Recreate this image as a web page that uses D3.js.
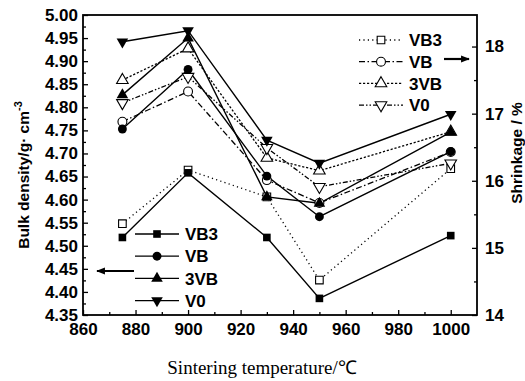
<!DOCTYPE html>
<html>
<head>
<meta charset="utf-8">
<script src="https://cdn.jsdelivr.net/npm/d3@7"></script>
<style>
  body { margin: 0; background: #fff; }
  svg { display: block; }
</style>
</head>
<body>
<div id="chart"></div>
<script>
// values
const temps = [875, 900, 930, 950, 1000];

const densityVB3 = [4.518, 4.658, 4.518, 4.386, 4.522];
const densityVB  = [4.753, 4.882, 4.651, 4.563, 4.704];
const density3VB = [4.827, 4.950, 4.606, 4.592, 4.746];
const densityV0  = [4.942, 4.966, 4.729, 4.679, 4.785];

const shrinkVB3 = [15.36, 16.16, 15.76, 14.52, 16.18];
const shrinkVB  = [16.88, 17.33, 16.01, 15.67, 16.43];
const shrink3VB = [17.50, 17.97, 16.34, 16.15, 16.73];
const shrinkV0  = [17.16, 17.55, 16.49, 15.91, 16.26];

const seriesNames = ["VB3", "VB", "3VB", "V0"];
const xTicks = [860, 880, 900, 920, 940, 960, 980, 1000];
const yLeftTicks = d3.range(4.35, 5.0001, 0.05);
const yRightTicks = [14, 15, 16, 17, 18];

const width = 525, height = 381;
const frame = {left: 83, right: 477, top: 15, bottom: 315};

const svg = d3.select("#chart").append("svg")
    .attr("width", width)
    .attr("height", height);

const x = d3.scaleLinear().domain([860, 1010]).range([frame.left, frame.right]);
const yL = d3.scaleLinear().domain([4.35, 5.0]).range([frame.bottom, frame.top]);
const yR = d3.scaleLinear().domain([14, 18.47]).range([frame.bottom, frame.top]);

const font = "'Liberation Sans', Arial, sans-serif";

// symbols: square, circle, up triangle, down triangle
const shapes = [
  {type: d3.symbolSquare, size: 58, rot: 0},
  {type: d3.symbolCircle, size: 62, rot: 0},
  {type: d3.symbolTriangle, size: 58, rot: 0},
  {type: d3.symbolTriangle, size: 58, rot: 180}
];
const shrinkDash = ["1.2,3.2", "6,2.5,1.5,2.5", "2.2,1.8", "5,2,1.5,2,1.5,2"];

const density = [densityVB3, densityVB, density3VB, densityV0];
const shrink = [shrinkVB3, shrinkVB, shrink3VB, shrinkV0];

// axes
const styleAxis = g => {
  g.select(".domain").remove();
  g.selectAll("line").attr("stroke", "#000").attr("stroke-width", 1.3);
  g.selectAll("text")
    .attr("font-family", font)
    .attr("font-weight", "bold")
    .attr("font-size", 17)
    .attr("fill", "#000");
};

svg.append("g")
    .attr("transform", `translate(${frame.left},0)`)
    .call(d3.axisLeft(yL).tickValues(d3.range(4.375, 5.0, 0.05)).tickSize(-3).tickFormat(""))
    .call(styleAxis);
svg.append("g")
    .attr("transform", `translate(${frame.left},0)`)
    .call(d3.axisLeft(yL).tickValues(yLeftTicks).tickSize(-5).tickPadding(5).tickFormat(d3.format(".2f")))
    .call(styleAxis);

svg.append("g")
    .attr("transform", `translate(${frame.right},0)`)
    .call(d3.axisRight(yR).tickValues(d3.range(14.5, 18.5, 1)).tickSize(-3).tickFormat(""))
    .call(styleAxis);
svg.append("g")
    .attr("transform", `translate(${frame.right},0)`)
    .call(d3.axisRight(yR).tickValues(yRightTicks).tickSize(-5).tickPadding(8).tickFormat(d3.format("d")))
    .call(styleAxis);

svg.append("g")
    .attr("transform", `translate(0,${frame.bottom})`)
    .call(d3.axisBottom(x).tickValues(d3.range(870, 1010, 20)).tickSize(-3).tickFormat(""))
    .call(styleAxis);
svg.append("g")
    .attr("transform", `translate(0,${frame.bottom})`)
    .call(d3.axisBottom(x).tickValues(xTicks).tickSize(-5).tickPadding(8).tickFormat(d3.format("d")))
    .call(styleAxis);

// frame
svg.append("rect")
    .attr("x", frame.left)
    .attr("y", frame.top)
    .attr("width", frame.right - frame.left)
    .attr("height", frame.bottom - frame.top)
    .attr("fill", "none")
    .attr("stroke", "#000")
    .attr("stroke-width", 1.8);

// lines
const lineL = d3.line().x((d, i) => x(temps[i])).y(d => yL(d));
const lineR = d3.line().x((d, i) => x(temps[i])).y(d => yR(d));

shrink.forEach((s, k) => {
  svg.append("path")
      .attr("d", lineR(s))
      .attr("fill", "none")
      .attr("stroke", "#000")
      .attr("stroke-width", 1.3)
      .attr("stroke-dasharray", shrinkDash[k]);
});
density.forEach(s => {
  svg.append("path")
      .attr("d", lineL(s))
      .attr("fill", "none")
      .attr("stroke", "#000")
      .attr("stroke-width", 1.4);
});

// markers
const sym = k => d3.symbol().type(shapes[k].type).size(shapes[k].size)();

shrink.forEach((s, k) => {
  svg.append("g").selectAll("path")
    .data(s)
    .join("path")
      .attr("d", sym(k))
      .attr("transform", (d, i) => `translate(${x(temps[i])},${yR(d)}) rotate(${shapes[k].rot})`)
      .attr("fill", "#fff")
      .attr("stroke", "#000")
      .attr("stroke-width", 1.1);
});
density.forEach((s, k) => {
  svg.append("g").selectAll("path")
    .data(s)
    .join("path")
      .attr("d", sym(k))
      .attr("transform", (d, i) => `translate(${x(temps[i])},${yL(d)}) rotate(${shapes[k].rot})`)
      .attr("fill", "#000");
});

// legends
const legend = (x0, y0, step, filled, dashes) => {
  seriesNames.forEach((name, k) => {
    const g = svg.append("g").attr("transform", `translate(${x0},${y0 + k * step})`);
    g.append("line")
        .attr("x1", 0).attr("x2", 44)
        .attr("stroke", "#000")
        .attr("stroke-width", 1.3)
        .attr("stroke-dasharray", dashes ? dashes[k] : null);
    g.append("path")
        .attr("d", sym(k))
        .attr("transform", `translate(22,0) rotate(${shapes[k].rot})`)
        .attr("fill", filled ? "#000" : "#fff")
        .attr("stroke", filled ? "none" : "#000")
        .attr("stroke-width", 1.1);
    g.append("text")
        .attr("x", 50)
        .attr("y", 0)
        .attr("dy", "0.36em")
        .attr("font-family", font)
        .attr("font-weight", "bold")
        .attr("font-size", 17)
        .text(name);
  });
};
legend(359, 40, 21.7, false, shrinkDash);
legend(135, 234, 22.2, true, null);

// arrows
const defs = svg.append("defs");
defs.append("marker")
    .attr("id", "head")
    .attr("viewBox", "0 0 10 10")
    .attr("refX", 9).attr("refY", 5)
    .attr("markerWidth", 4).attr("markerHeight", 4)
    .attr("orient", "auto")
  .append("path")
    .attr("d", "M0,1L10,5L0,9Z")
    .attr("fill", "#000");

svg.append("line")
    .attr("x1", 444).attr("y1", 59).attr("x2", 469).attr("y2", 59)
    .attr("stroke", "#000").attr("stroke-width", 2.2)
    .attr("marker-end", "url(#head)");
svg.append("line")
    .attr("x1", 134).attr("y1", 271).attr("x2", 97).attr("y2", 271)
    .attr("stroke", "#000").attr("stroke-width", 2.2)
    .attr("marker-end", "url(#head)");

// axis titles
const leftTitle = svg.append("text")
    .attr("transform", "translate(29,175) rotate(-90)")
    .attr("text-anchor", "middle")
    .attr("font-family", font)
    .attr("font-weight", "bold")
    .attr("font-size", 15.5);
leftTitle.append("tspan").text("Bulk density/g\u00b7 cm");
leftTitle.append("tspan").attr("dy", -7).attr("font-size", 11).text("-3");

svg.append("text")
    .attr("transform", "translate(522,153) rotate(-90)")
    .attr("text-anchor", "middle")
    .attr("font-family", font)
    .attr("font-weight", "bold")
    .attr("font-size", 15.5)
    .text("Shrinkage / %");

svg.append("text")
    .attr("x", 262)
    .attr("y", 374)
    .attr("text-anchor", "middle")
    .attr("font-family", "'Liberation Serif', 'Times New Roman', serif")
    .attr("font-size", 19)
    .text("Sintering temperature/\u2103");
</script>
</body>
</html>
